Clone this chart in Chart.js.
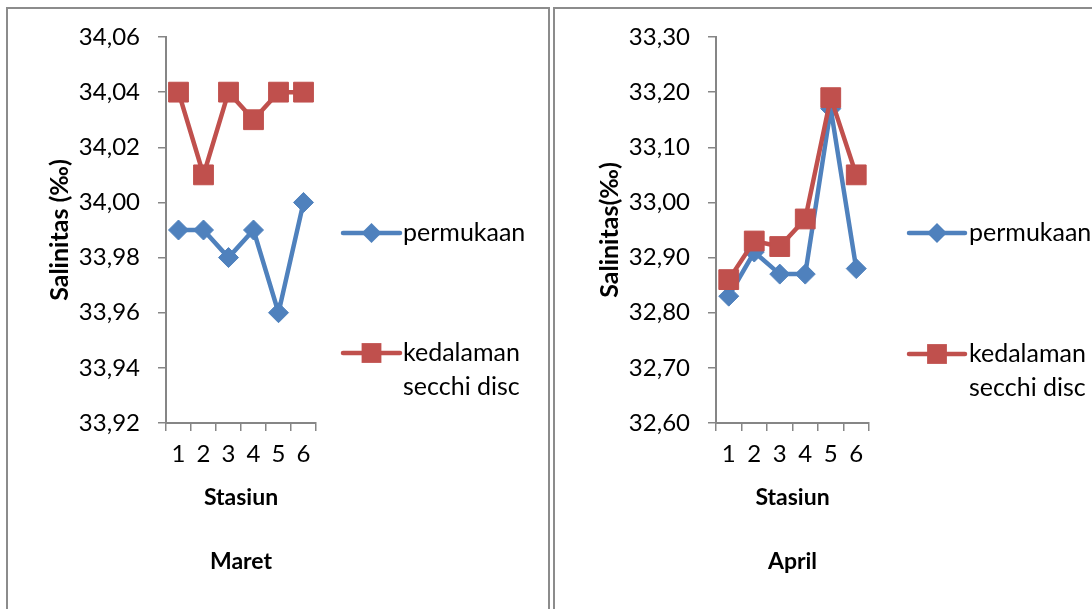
<!DOCTYPE html>
<html>
<head>
<meta charset="utf-8">
<title>Salinitas Maret - April</title>
<script src="https://cdn.jsdelivr.net/npm/chart.js@4.4.0/dist/chart.umd.min.js"></script>
<style>
  body { margin: 0; background: #fff; width: 1092px; height: 609px; overflow: hidden; position: relative; }
  .panel { position: absolute; top: 7px; height: 640px; border: 2px solid #8c8c8c; box-sizing: border-box; }
  #panelMaret { left: 6px; width: 544px; }
  #panelApril { left: 553px; width: 600px; }
  canvas { position: absolute; top: 0; }
  #chartMaret { left: 0; }
  #chartApril { left: 550px; }
</style>
</head>
<body>
<div class="panel" id="panelMaret"></div>
<div class="panel" id="panelApril"></div>
<canvas id="chartMaret" width="550" height="609"></canvas>
<canvas id="chartApril" width="542" height="609"></canvas>

<script>
// data
const stasiun = ["1", "2", "3", "4", "5", "6"];
const seriesNames = ["permukaan", ["kedalaman", "secchi disc"]];

const maretPermukaan = [33.99, 33.99, 33.98, 33.99, 33.96, 34.00];
const maretSecchi = [34.04, 34.01, 34.04, 34.03, 34.04, 34.04];
const maretTicks = [33.92, 33.94, 33.96, 33.98, 34.00, 34.02, 34.04, 34.06];

const aprilPermukaan = [32.83, 32.91, 32.87, 32.87, 33.17, 32.88];
const aprilSecchi = [32.86, 32.93, 32.92, 32.97, 33.19, 33.05];
const aprilTicks = [32.60, 32.70, 32.80, 32.90, 33.00, 33.10, 33.20, 33.30];

const BLUE = "#4f81bd";
const RED = "#c0504d";
const AXIS = "#868686";
const FONT = "Lato, 'Open Sans', sans-serif";

Chart.defaults.font.family = FONT;
Chart.defaults.color = "#000";

// legend drawn next to the plot (line + marker + text, text may be 2 lines)
const sideLegend = {
  id: "sideLegend",
  afterDraw(chart, args, opts) {
    const ctx = chart.ctx;
    ctx.save();
    chart.data.datasets.forEach(function (ds, i) {
      const y = opts.rows[i];
      ctx.strokeStyle = ds.borderColor;
      ctx.lineWidth = 4.5;
      ctx.lineCap = "round";
      ctx.beginPath();
      ctx.moveTo(opts.x1, y);
      ctx.lineTo(opts.x2, y);
      ctx.stroke();
      const cx = (opts.x1 + opts.x2) / 2;
      ctx.fillStyle = ds.backgroundColor;
      ctx.beginPath();
      if (ds.pointStyle === "rectRot") {
        const r = ds.pointRadius;
        ctx.moveTo(cx - r, y);
        ctx.lineTo(cx, y - r);
        ctx.lineTo(cx + r, y);
        ctx.lineTo(cx, y + r);
      } else {
        const s = ds.pointRadius * Math.SQRT1_2;
        ctx.rect(cx - s, y - s, 2 * s, 2 * s);
      }
      ctx.closePath();
      ctx.fill();
      ctx.fillStyle = "#000";
      ctx.font = "25px " + FONT;
      ctx.textBaseline = "middle";
      const lines = [].concat(ds.label);
      lines.forEach(function (t, k) {
        ctx.fillText(t, opts.textX, y + k * 34);
      });
    });
    ctx.restore();
  },
};

function fmt(v) {
  return v.toFixed(2).replace(".", ",");
}

function makeChart(id, permukaan, secchi, ticks, yTitle, month, padRight, legend) {
  const ctx = document.getElementById(id).getContext("2d");
  return new Chart(ctx, {
    type: "line",
    data: {
      labels: stasiun,
      datasets: [
        {
          label: seriesNames[0],
          data: permukaan,
          borderColor: BLUE,
          backgroundColor: BLUE,
          borderWidth: 4.5,
          pointStyle: "rectRot",
          pointRadius: 10,
          pointBorderWidth: 1,
          tension: 0,
          order: 1,
        },
        {
          label: seriesNames[1],
          data: secchi,
          borderColor: RED,
          backgroundColor: RED,
          borderWidth: 4.5,
          pointStyle: "rect",
          pointRadius: 14,
          pointBorderWidth: 1,
          tension: 0,
          order: 0,
        },
      ],
    },
    options: {
      responsive: false,
      animation: false,
      layout: { padding: { left: 41, top: 37, right: padRight, bottom: 27 } },
      plugins: {
        legend: { display: false },
        tooltip: { enabled: false },
        sideLegend: legend,
      },
      scales: {
        x: {
          type: "category",
          offset: true,
          grid: { offset: true, drawOnChartArea: false, drawTicks: true, tickLength: 8, color: AXIS, lineWidth: 1.5 },
          border: { color: AXIS, width: 2 },
          ticks: { font: { size: 24 }, padding: 9, maxRotation: 0 },
          title: {
            display: true,
            text: ["Stasiun", "", month],
            font: { size: 23, weight: "bold", lineHeight: "32px" },
            padding: { top: 4, bottom: 4 },
          },
          afterFit(scale) {
            scale.height = 159;
          },
        },
        y: {
          min: ticks[0],
          max: ticks[ticks.length - 1],
          grid: { drawOnChartArea: false, drawTicks: true, tickLength: 8, color: AXIS, lineWidth: 1.5 },
          border: { color: AXIS, width: 2 },
          ticks: {
            font: { size: 24 },
            padding: 18,
            callback: function (v) {
              return fmt(v);
            },
          },
          afterBuildTicks(scale) {
            scale.ticks = ticks.map(function (v) {
              return { value: v };
            });
          },
          title: {
            display: true,
            text: yTitle,
            font: { size: 25, weight: "bold" },
          },
          afterFit(scale) {
            scale.width = 125;
          },
        },
      },
    },
    plugins: [sideLegend],
  });
}

makeChart("chartMaret", maretPermukaan, maretSecchi, maretTicks, "Salinitas (‰)", "Maret", 234,
  { x1: 343, x2: 400, textX: 403, rows: [233, 353] });
makeChart("chartApril", aprilPermukaan, aprilSecchi, aprilTicks, "Salinitas(‰)", "April", 223,
  { x1: 359, x2: 415, textX: 419, rows: [233, 354] });
</script>
</body>
</html>
